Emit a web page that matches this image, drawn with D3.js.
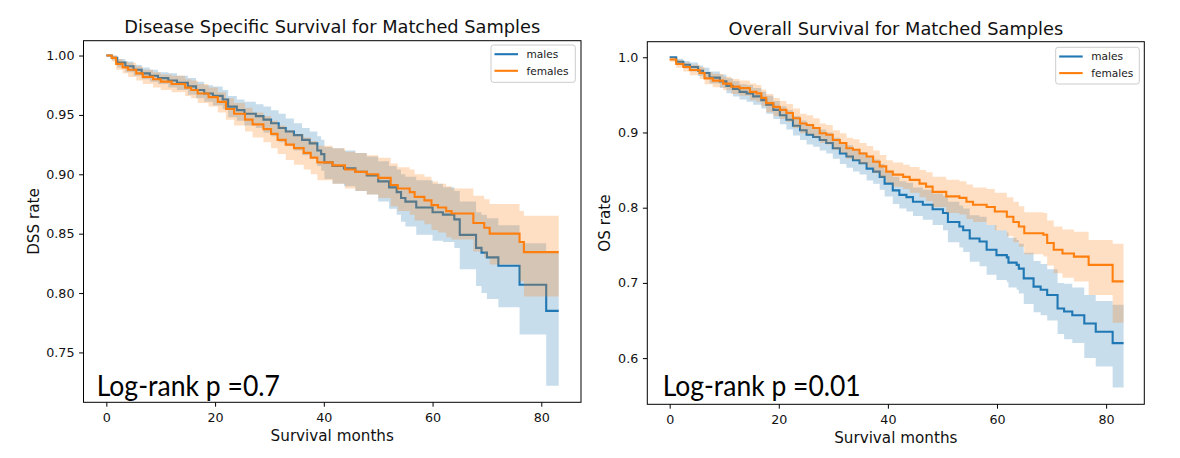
<!DOCTYPE html>
<html>
<head>
<meta charset="utf-8">
<script src="https://cdn.jsdelivr.net/npm/d3@7"></script>
<style>
  html, body { margin: 0; padding: 0; background: #ffffff; }
  svg { display: block; font-family: 'DejaVu Sans', sans-serif; }
</style>
</head>
<body>
<svg id="chart" width="1180" height="458"></svg>
<script>
// ---------------- DATA ----------------
const seriesNames = ["males", "females"];
const xTickValues = [0, 20, 40, 60, 80];
const dssYTicks = [0.75, 0.80, 0.85, 0.90, 0.95, 1.00];
const osYTicks = [0.6, 0.7, 0.8, 0.9, 1.0];

// Disease specific survival - males
const dssMaleTime  = [0,1,2,3.5,5,6.5,8,9.5,11.4,13,15,16.5,18,19.6,21.4,22.4,24,25.4,27.5,28.9,30.3,31.7,33,34.5,36,37.4,38.8,39.5,40.1,41.6,43.7,45.8,47.9,50,52,53.4,54.2,55,57,60,61.9,64,65,68,69,70,72.1,76,80.9,83.2];
const dssMaleSurv  = [1.000,0.998,0.994,0.991,0.988,0.985,0.983,0.981,0.979,0.977,0.974,0.971,0.968,0.966,0.963,0.957,0.954,0.951,0.949,0.946,0.943,0.939,0.936,0.933,0.929,0.926,0.920,0.917,0.910,0.907,0.905,0.902,0.899,0.894,0.889,0.885,0.880,0.877,0.872,0.868,0.866,0.862,0.849,0.838,0.834,0.830,0.823,0.807,0.785,0.785];
const dssMaleLower = [1.000,0.996,0.990,0.986,0.983,0.980,0.978,0.976,0.973,0.971,0.967,0.964,0.961,0.958,0.955,0.948,0.945,0.941,0.939,0.935,0.932,0.927,0.924,0.920,0.916,0.913,0.907,0.903,0.896,0.892,0.890,0.886,0.883,0.877,0.871,0.866,0.860,0.856,0.849,0.844,0.843,0.838,0.820,0.806,0.800,0.795,0.788,0.765,0.722,0.722];
const dssMaleUpper = [1.000,1.000,0.997,0.995,0.992,0.990,0.988,0.986,0.985,0.983,0.981,0.978,0.975,0.974,0.971,0.966,0.963,0.961,0.959,0.957,0.954,0.951,0.947,0.943,0.939,0.936,0.932,0.929,0.923,0.922,0.920,0.918,0.915,0.911,0.907,0.904,0.900,0.898,0.895,0.892,0.889,0.886,0.877,0.868,0.866,0.863,0.857,0.842,0.835,0.835];

// Disease specific survival - females
const dssFemaleTime  = [0,1,1.8,3,4,5.5,6.7,8.6,10,12,14.5,15.6,16.8,18.8,20.5,22,23.5,25.5,26.9,28.9,30.3,31.5,33,34.5,36.3,37.6,38.8,41.6,43.9,45.8,47.9,50,52.3,53.6,55.8,56.7,58.5,59.8,61,62.5,63.5,67.5,69.5,70.5,76,76.8,83.2];
const dssFemaleSurv  = [1.000,0.998,0.993,0.990,0.988,0.985,0.982,0.980,0.978,0.976,0.973,0.971,0.968,0.965,0.961,0.955,0.951,0.946,0.942,0.938,0.934,0.929,0.925,0.922,0.918,0.914,0.910,0.9075,0.904,0.902,0.900,0.897,0.891,0.888,0.885,0.881,0.878,0.874,0.872,0.869,0.867,0.859,0.855,0.850,0.843,0.8345,0.8345];
const dssFemaleLower = [1.000,0.995,0.988,0.985,0.982,0.979,0.976,0.973,0.971,0.969,0.966,0.964,0.960,0.957,0.952,0.946,0.941,0.936,0.931,0.927,0.922,0.917,0.912,0.908,0.904,0.900,0.895,0.892,0.888,0.886,0.883,0.880,0.873,0.869,0.866,0.861,0.858,0.853,0.851,0.847,0.845,0.835,0.830,0.824,0.810,0.797,0.797];
const dssFemaleUpper = [1.000,1.000,0.997,0.995,0.994,0.991,0.988,0.986,0.984,0.983,0.980,0.979,0.976,0.973,0.969,0.964,0.960,0.956,0.952,0.949,0.945,0.941,0.937,0.934,0.931,0.928,0.924,0.922,0.919,0.918,0.916,0.914,0.909,0.906,0.904,0.900,0.898,0.894,0.892,0.890,0.888,0.882,0.879,0.875,0.869,0.865,0.865];

// Overall survival - males
const osMaleTime  = [0,1.2,2.5,3.7,5.2,6.1,7.3,9.2,10.4,11.6,12.8,14.1,15.3,16.8,17.7,19.0,20.2,21.4,22.6,23.9,25.1,26.3,27.5,28.7,29.9,31.2,32.4,33.6,34.8,36.1,37.3,38.5,39.4,40.9,42.1,43.4,44.6,46.4,48.2,50.1,51.0,53.1,53.8,55.0,56.8,58.1,59.9,61.8,62.1,63.6,64.0,64.9,66.7,68.0,69.2,71.1,72.3,73.8,76.0,78.1,81.2,83.2];
const osMaleSurv  = [1.000,0.994,0.990,0.987,0.982,0.979,0.973,0.968,0.962,0.958,0.954,0.952,0.948,0.943,0.937,0.930,0.923,0.917,0.909,0.903,0.897,0.894,0.890,0.886,0.879,0.872,0.868,0.863,0.859,0.852,0.848,0.841,0.832,0.823,0.817,0.814,0.808,0.804,0.798,0.793,0.781,0.775,0.770,0.759,0.755,0.744,0.737,0.734,0.727,0.724,0.719,0.706,0.695,0.691,0.684,0.666,0.662,0.657,0.646,0.635,0.620,0.620];
const osMaleLower = [1.000,0.990,0.985,0.981,0.975,0.972,0.965,0.959,0.952,0.948,0.944,0.941,0.937,0.932,0.925,0.918,0.911,0.904,0.896,0.890,0.884,0.881,0.876,0.872,0.865,0.858,0.853,0.848,0.844,0.836,0.832,0.824,0.815,0.805,0.799,0.795,0.789,0.784,0.777,0.770,0.754,0.747,0.741,0.728,0.722,0.711,0.704,0.701,0.694,0.691,0.686,0.672,0.661,0.657,0.650,0.632,0.625,0.620,0.600,0.589,0.561,0.561];
const osMaleUpper = [1.000,0.998,0.995,0.993,0.989,0.986,0.981,0.977,0.972,0.968,0.964,0.963,0.959,0.954,0.949,0.942,0.935,0.930,0.922,0.916,0.910,0.907,0.904,0.900,0.893,0.886,0.883,0.878,0.874,0.868,0.864,0.858,0.849,0.841,0.835,0.833,0.827,0.824,0.819,0.816,0.808,0.803,0.799,0.790,0.788,0.777,0.770,0.767,0.760,0.757,0.752,0.740,0.729,0.725,0.718,0.700,0.699,0.694,0.684,0.676,0.671,0.671];

// Overall survival - females
const osFemaleTime  = [0,1.2,2.5,3.7,5.5,6.4,7.9,9.8,11.3,12.8,14.7,15.9,16.8,17.7,19.0,20.2,21.4,22.6,23.9,25.1,26.3,27.5,28.7,29.9,31.2,32.4,33.6,34.8,36.1,37.3,38.5,39.7,40.9,42.8,44.0,45.8,47.0,48.2,50.7,53.1,54.4,55.6,58.1,59.6,61.8,63.0,64.0,65.0,68.5,69.2,70.4,72.0,74.1,76.8,81.2,83.2];
const osFemaleSurv  = [0.997,0.991,0.987,0.983,0.979,0.972,0.969,0.965,0.961,0.959,0.954,0.952,0.946,0.939,0.934,0.930,0.926,0.919,0.912,0.910,0.906,0.899,0.897,0.890,0.886,0.879,0.877,0.872,0.868,0.861,0.855,0.848,0.844,0.841,0.837,0.832,0.828,0.821,0.815,0.813,0.808,0.804,0.801,0.795,0.788,0.781,0.775,0.766,0.764,0.753,0.744,0.739,0.735,0.724,0.702,0.702];
const osFemaleLower = [0.994,0.986,0.981,0.976,0.971,0.964,0.960,0.956,0.951,0.949,0.943,0.941,0.935,0.927,0.922,0.918,0.914,0.906,0.899,0.897,0.893,0.886,0.884,0.877,0.873,0.865,0.863,0.858,0.854,0.846,0.840,0.833,0.828,0.825,0.820,0.814,0.809,0.801,0.793,0.791,0.785,0.781,0.777,0.770,0.762,0.754,0.748,0.738,0.735,0.723,0.713,0.707,0.702,0.684,0.647,0.647];
const osFemaleUpper = [1.000,0.996,0.993,0.990,0.987,0.980,0.978,0.974,0.971,0.969,0.965,0.963,0.957,0.951,0.946,0.942,0.938,0.932,0.925,0.923,0.919,0.912,0.910,0.903,0.899,0.893,0.891,0.886,0.882,0.876,0.870,0.863,0.860,0.857,0.854,0.850,0.847,0.841,0.837,0.835,0.831,0.827,0.825,0.820,0.814,0.808,0.802,0.794,0.793,0.783,0.775,0.771,0.768,0.757,0.752,0.752];

// ---------------- LAYOUT ----------------
const colors = { males: "#1f77b4", females: "#ff7f0e" };
const panels = [
  {
    id: "dss",
    title: "Disease Specific Survival for Matched Samples",
    ylabel: "DSS rate",
    xlabel: "Survival months",
    logrank: "Log-rank p =0.7",
    yTicks: dssYTicks, yFmt: d3.format(".2f"),
    xDomain: [-4.2, 87.3], yDomain: [0.708, 1.0125],
    box: { x0: 83.5, x1: 581, y0: 40.7, y1: 402.3 },
    titleY: 33, ylabelX: 38.5, xlabelY: 441.3,
    logX: 96.7, logY: 396, logW: 183.3,
    legend: { x: 491, y: 45, w: 84.3, h: 37.3 },
    series: [
      { name: "males", t: dssMaleTime, s: dssMaleSurv, lo: dssMaleLower, hi: dssMaleUpper },
      { name: "females", t: dssFemaleTime, s: dssFemaleSurv, lo: dssFemaleLower, hi: dssFemaleUpper }
    ]
  },
  {
    id: "os",
    title: "Overall Survival for Matched Samples",
    ylabel: "OS rate",
    xlabel: "Survival months",
    logrank: "Log-rank p =0.01",
    yTicks: osYTicks, yFmt: d3.format(".1f"),
    xDomain: [-4.1, 87.0], yDomain: [0.5386, 1.0207],
    box: { x0: 647.3, x1: 1144.3, y0: 41.7, y1: 404.3 },
    titleY: 34.8, ylabelX: 610, xlabelY: 443.3,
    logX: 662.7, logY: 396, logW: 198,
    legend: { x: 1055.7, y: 47.3, w: 83.6, h: 36.7 },
    series: [
      { name: "males", t: osMaleTime, s: osMaleSurv, lo: osMaleLower, hi: osMaleUpper },
      { name: "females", t: osFemaleTime, s: osFemaleSurv, lo: osFemaleLower, hi: osFemaleUpper }
    ]
  }
];

const svg = d3.select("#chart");
svg.append("rect").attr("width", 1180).attr("height", 458).attr("fill", "#ffffff");

panels.forEach(p => {
  const b = p.box;
  const x = d3.scaleLinear().domain(p.xDomain).range([b.x0, b.x1]);
  const y = d3.scaleLinear().domain(p.yDomain).range([b.y1, b.y0]);
  const g = svg.append("g");

  const clipId = "clip-" + p.id;
  svg.append("clipPath").attr("id", clipId)
    .append("rect").attr("x", b.x0).attr("y", b.y0)
    .attr("width", b.x1 - b.x0).attr("height", b.y1 - b.y0);

  const plot = g.append("g").attr("clip-path", `url(#${clipId})`);

  const line = d3.line().curve(d3.curveStepAfter)
    .x(d => x(d.t)).y(d => y(d.s));
  const area = d3.area().curve(d3.curveStepAfter)
    .x(d => x(d.t)).y0(d => y(d.lo)).y1(d => y(d.hi));

  p.series.forEach(sr => {
    const rows = sr.t.map((t, i) => ({ t: t, s: sr.s[i], lo: sr.lo[i], hi: sr.hi[i] }));
    plot.append("path").datum(rows)
      .attr("d", line)
      .attr("fill", "none")
      .attr("stroke", colors[sr.name])
      .attr("stroke-width", 2.1)
      .attr("stroke-linejoin", "miter");
    plot.append("path").datum(rows)
      .attr("d", area)
      .attr("fill", colors[sr.name])
      .attr("fill-opacity", 0.25)
      .attr("stroke", "none");
  });

  // axes
  const gx = g.append("g").attr("transform", `translate(0,${b.y1})`)
    .call(d3.axisBottom(x).tickValues(xTickValues).tickFormat(d3.format("d"))
      .tickSize(4.4).tickPadding(6).tickSizeOuter(0));
  gx.select(".domain").remove();
  gx.attr("font-family", null).attr("font-size", null);
  gx.selectAll("line").attr("stroke", "#000");
  gx.selectAll("text").attr("font-size", "12.7px").attr("fill", "#111");

  const gy = g.append("g").attr("transform", `translate(${b.x0},0)`)
    .call(d3.axisLeft(y).tickValues(p.yTicks).tickFormat(p.yFmt)
      .tickSize(4.4).tickPadding(4.6).tickSizeOuter(0));
  gy.select(".domain").remove();
  gy.attr("font-family", null).attr("font-size", null);
  gy.selectAll("line").attr("stroke", "#000");
  gy.selectAll("text").attr("font-size", "12.7px").attr("fill", "#111");

  // frame
  g.append("rect")
    .attr("x", b.x0).attr("y", b.y0)
    .attr("width", b.x1 - b.x0).attr("height", b.y1 - b.y0)
    .attr("fill", "none").attr("stroke", "#000").attr("stroke-width", 1);

  // title & labels
  g.append("text").attr("x", (b.x0 + b.x1) / 2).attr("y", p.titleY)
    .attr("text-anchor", "middle").attr("font-size", "17.8px").attr("fill", "#111")
    .text(p.title);
  g.append("text").attr("x", (b.x0 + b.x1) / 2).attr("y", p.xlabelY)
    .attr("text-anchor", "middle").attr("font-size", "15.2px").attr("fill", "#111")
    .text(p.xlabel);
  g.append("text")
    .attr("transform", `translate(${p.ylabelX},${(b.y0 + b.y1) / 2}) rotate(-90)`)
    .attr("text-anchor", "middle").attr("font-size", "15.2px").attr("fill", "#111")
    .text(p.ylabel);

  // log-rank annotation
  g.append("text").attr("x", p.logX).attr("y", p.logY)
    .attr("font-family", "Lato, 'Open Sans', sans-serif")
    .attr("font-size", "28px").attr("fill", "#000")
    .attr("textLength", p.logW).attr("lengthAdjust", "spacingAndGlyphs")
    .text(p.logrank);

  // legend
  const L = p.legend;
  const lg = g.append("g");
  lg.append("rect").attr("x", L.x).attr("y", L.y).attr("width", L.w).attr("height", L.h)
    .attr("rx", 2.5).attr("fill", "#fff").attr("fill-opacity", 0.8)
    .attr("stroke", "#cccccc").attr("stroke-width", 1);
  seriesNames.forEach((name, i) => {
    const ly = L.y + 9.2 + i * 16.6;
    lg.append("line").attr("x1", L.x + 3.5).attr("x2", L.x + 27)
      .attr("y1", ly).attr("y2", ly)
      .attr("stroke", colors[name]).attr("stroke-width", 2.1);
    lg.append("text").attr("x", L.x + 35.5).attr("y", ly + 3.8)
      .attr("font-size", "10.6px").attr("fill", "#1a1a1a").text(name);
  });
});
</script>
</body>
</html>
